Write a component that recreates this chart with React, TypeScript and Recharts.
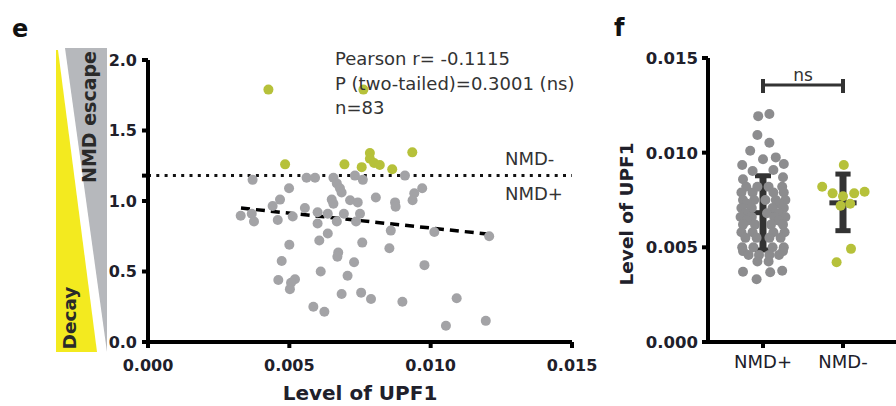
import { ScatterChart, Scatter, XAxis, YAxis, ReferenceLine } from "recharts";

const FONT = '"DejaVu Sans", sans-serif';
const TICK_FILL = "#20202a";

// ---- panel e: NMD efficiency vs UPF1 level ----
// [level of UPF1, NMD escape ratio]
const escapePoints: [number, number][] = [
  [0.00426, 1.79], [0.00762, 1.79], [0.00485, 1.26], [0.00695, 1.26],
  [0.00756, 1.24], [0.00785, 1.34], [0.00785, 1.3], [0.008, 1.27],
  [0.0082, 1.255], [0.00864, 1.225], [0.00935, 1.345],
];

const decayPoints: [number, number][] = [
  [0.0037, 1.15], [0.00561, 1.165], [0.00591, 1.165], [0.00656, 1.165],
  [0.00668, 1.125], [0.00679, 1.09], [0.00685, 1.06], [0.00732, 1.18],
  [0.0076, 1.15], [0.00909, 1.18], [0.0097, 1.09], [0.00942, 1.055],
  [0.00936, 1.005], [0.00499, 1.09], [0.00467, 1.01], [0.00441, 0.965],
  [0.0065, 1.01], [0.00656, 0.98], [0.00715, 1.005], [0.00742, 0.99],
  [0.00806, 1.025], [0.00874, 0.99], [0.00876, 0.96], [0.00328, 0.895],
  [0.00367, 0.91], [0.00375, 0.855], [0.00459, 0.865], [0.00512, 0.89],
  [0.00555, 0.95], [0.006, 0.92], [0.006, 0.84], [0.00636, 0.91],
  [0.00668, 0.855], [0.00693, 0.91], [0.00736, 0.855], [0.0075, 0.91],
  [0.00859, 0.79], [0.01013, 0.78], [0.01207, 0.75], [0.00636, 0.77],
  [0.00606, 0.72], [0.005, 0.69], [0.00758, 0.705], [0.00854, 0.665],
  [0.00673, 0.635], [0.0067, 0.605], [0.00473, 0.575], [0.00729, 0.565],
  [0.00978, 0.545], [0.00611, 0.5], [0.00706, 0.47], [0.00461, 0.44],
  [0.0052, 0.445], [0.00506, 0.42], [0.00502, 0.375], [0.00685, 0.34],
  [0.00754, 0.35], [0.00789, 0.305], [0.009, 0.285], [0.01092, 0.31],
  [0.00585, 0.25], [0.00624, 0.215], [0.01054, 0.115], [0.01195, 0.15],
];

const nmdThreshold = 1.18;
const fitStart: [number, number] = [0.00329, 0.95];
const fitEnd: [number, number] = [0.012, 0.766];

const eXTicks = [0, 0.005, 0.01, 0.015];
const eYTicks = [0, 0.5, 1, 1.18, 1.5, 2];

// ---- panel f: UPF1 level per group ----
const groupLabels = ["NMD+", "NMD-"];
const fYTicks = [0, 0.005, 0.01, 0.015];

// [horizontal jitter, level of UPF1]
const nmdPlusPoints: [number, number][] = [
  [-0.06, 0.01193], [0.08, 0.01204], [-0.07, 0.01093], [0.08, 0.01052],
  [-0.16, 0.0101], [0.0, 0.00965], [0.16, 0.00975], [-0.26, 0.00935],
  [0.26, 0.0094], [-0.13, 0.00903], [0.13, 0.00908], [-0.25, 0.0086],
  [0.25, 0.0087],
  [-0.21, 0.0082], [-0.07, 0.0082], [0.07, 0.0082], [0.24, 0.0082],
  [-0.27, 0.0079], [-0.13, 0.0079], [0.13, 0.0079], [0.26, 0.0079],
  [-0.25, 0.0075], [-0.11, 0.0075], [0.03, 0.0075], [0.16, 0.0075], [0.28, 0.0075],
  [-0.2, 0.0073], [0.2, 0.0073],
  [-0.27, 0.00708], [-0.14, 0.00708], [0.12, 0.00708], [0.26, 0.00708],
  [-0.22, 0.0068], [0.05, 0.0068], [0.2, 0.0068],
  [-0.28, 0.0066], [-0.14, 0.0066], [0.14, 0.0066], [0.28, 0.0066],
  [-0.2, 0.0064], [0.2, 0.0064],
  [-0.25, 0.0062], [-0.1, 0.0062], [0.1, 0.0062], [0.25, 0.0062],
  [-0.27, 0.0058], [-0.13, 0.0058], [0.13, 0.0058], [0.27, 0.0058],
  [-0.22, 0.0055], [-0.08, 0.0055], [0.08, 0.0055], [0.22, 0.0055],
  [-0.26, 0.005], [-0.12, 0.005], [0.12, 0.005], [0.26, 0.005],
  [-0.25, 0.0048], [0.25, 0.0048],
  [-0.18, 0.0046], [-0.05, 0.0046], [0.08, 0.0046], [0.2, 0.0046],
  [-0.07, 0.00425], [0.07, 0.00425],
  [-0.25, 0.00371], [-0.08, 0.00331], [0.09, 0.00368], [0.24, 0.00376],
];

const nmdMinusPoints: [number, number][] = [
  [0.01, 0.00935], [-0.26, 0.0082], [-0.13, 0.00785], [0.14, 0.00785],
  [0.27, 0.00794], [0.0, 0.0077], [0.09, 0.0073], [-0.03, 0.0072],
  [0.1, 0.00492], [-0.08, 0.00421],
];

// mean, lower SD, upper SD
const nmdPlusStats = [0.00683, 0.00486, 0.00878];
const nmdMinusStats = [0.00735, 0.00588, 0.00887];
const nsBracket = [0.01315, 0.01357, 0.01389];

const tickStyle = { fontSize: 16, fontWeight: "bold", fill: TICK_FILL, fontFamily: FONT };
const axisStroke = { stroke: "#000", strokeWidth: 4 };

// eslint-disable-next-line @typescript-eslint/no-explicit-any
const dot = (color: string) => (p: any) => <circle cx={p.cx} cy={p.cy} r={5} fill={color} />;

function PanelE() {
  const escape = escapePoints.map(([x, y]) => ({ x, y }));
  const decay = decayPoints.map(([x, y]) => ({ x, y }));
  return (
    <ScatterChart width={600} height={406} margin={{ top: 60, right: 28, bottom: 34, left: 0 }}>
      <XAxis
        type="number"
        dataKey="x"
        domain={[0, 0.015]}
        ticks={eXTicks}
        tickFormatter={(v: number) => v.toFixed(3)}
        axisLine={axisStroke}
        tickLine={axisStroke}
        tickSize={6}
        tickMargin={12}
        height={30}
        tick={tickStyle}
      />
      <YAxis
        type="number"
        dataKey="y"
        domain={[0, 2]}
        ticks={eYTicks}
        tickFormatter={(v: number) => (v === nmdThreshold ? "" : v.toFixed(1))}
        axisLine={axisStroke}
        tickLine={axisStroke}
        tickSize={6}
        tickMargin={5}
        width={148}
        tick={tickStyle}
      />
      <Scatter data={decay} shape={dot("#a3a3a6")} isAnimationActive={false} />
      <Scatter data={escape} shape={dot("#b6c13a")} isAnimationActive={false} />
      <ReferenceLine y={nmdThreshold} stroke="#111" strokeWidth={3} strokeDasharray="3 5.3" />
      <ReferenceLine
        segment={[
          { x: fitStart[0], y: fitStart[1] },
          { x: fitEnd[0], y: fitEnd[1] },
        ]}
        stroke="#000"
        strokeWidth={3.5}
        strokeDasharray="9 6"
      />
    </ScatterChart>
  );
}

function statLines(cx: number, stats: number[], half: number, cap: number) {
  const [mean, lo, hi] = stats;
  const c = "#333";
  return [
    <ReferenceLine key={`v${cx}`} segment={[{ x: cx, y: lo }, { x: cx, y: hi }]} stroke={c} strokeWidth={7} />,
    <ReferenceLine key={`m${cx}`} segment={[{ x: cx - half, y: mean }, { x: cx + half, y: mean }]} stroke={c} strokeWidth={5} />,
    <ReferenceLine key={`l${cx}`} segment={[{ x: cx - cap, y: lo }, { x: cx + cap, y: lo }]} stroke={c} strokeWidth={5} />,
    <ReferenceLine key={`h${cx}`} segment={[{ x: cx - cap, y: hi }, { x: cx + cap, y: hi }]} stroke={c} strokeWidth={5} />,
  ];
}

function PanelF() {
  const plus = nmdPlusPoints.map(([j, y]) => ({ x: 1 + j, y }));
  const minus = nmdMinusPoints.map(([j, y]) => ({ x: 2 + j, y }));
  const [bLo, bMid, bHi] = nsBracket;
  return (
    <ScatterChart width={316} height={406} margin={{ top: 58, right: 0, bottom: 34, left: 0 }}>
      <XAxis
        type="number"
        dataKey="x"
        domain={[0.3125, 2.6625]}
        ticks={[1, 2]}
        tickFormatter={(v: number) => groupLabels[v - 1] ?? ""}
        axisLine={axisStroke}
        tickLine={axisStroke}
        tickSize={6}
        tickMargin={7}
        height={30}
        tick={{ fontSize: 18, fill: TICK_FILL, fontFamily: FONT }}
        allowDataOverflow
      />
      <YAxis
        type="number"
        dataKey="y"
        domain={[0, 0.015]}
        ticks={fYTicks}
        tickFormatter={(v: number) => v.toFixed(3)}
        axisLine={axisStroke}
        tickLine={axisStroke}
        tickSize={6}
        tickMargin={4}
        width={128}
        tick={{ ...tickStyle, fontSize: 16.5 }}
      />
      <Scatter data={plus} shape={dot("#8c8c8e")} isAnimationActive={false} />
      <Scatter data={minus} shape={dot("#b6c13a")} isAnimationActive={false} />
      {statLines(1, nmdPlusStats, 0.18, 0.1)}
      {statLines(2, nmdMinusStats, 0.17, 0.095)}
      <ReferenceLine segment={[{ x: 1, y: bMid }, { x: 2, y: bMid }]} stroke="#333" strokeWidth={3} />
      <ReferenceLine segment={[{ x: 1, y: bLo }, { x: 1, y: bHi }]} stroke="#333" strokeWidth={4} />
      <ReferenceLine segment={[{ x: 2, y: bLo }, { x: 2, y: bHi }]} stroke="#333" strokeWidth={4} />
    </ScatterChart>
  );
}

export default function App() {
  return (
    <div
      style={{
        position: "absolute",
        left: 0,
        top: 0,
        width: 896,
        height: 406,
        background: "#fff",
        fontFamily: FONT,
        overflow: "hidden",
      }}
    >
      <div style={{ position: "absolute", left: 0, top: 0 }}>
        <PanelE />
      </div>
      <div style={{ position: "absolute", left: 580, top: 0 }}>
        <PanelF />
      </div>
      <svg
        width={896}
        height={406}
        style={{ position: "absolute", left: 0, top: 0, pointerEvents: "none" }}
        fontFamily={FONT}
      >
        {/* escape / decay wedges */}
        <polygon points="56,50 58,50 97,352 56,352" fill="#f3ea1f" />
        <polygon points="65,48 107,48 107,352" fill="#b6b8bc" />
        <text x={96} y={117} fontSize={19} fontWeight="bold" fill="#2a2a2a" textAnchor="middle" transform="rotate(-90 96 117)">
          NMD escape
        </text>
        <text x={76} y={318} fontSize={18.5} fontWeight="bold" fill="#2a2a2a" textAnchor="middle" transform="rotate(-90 76 318)">
          Decay
        </text>
        <text x={12} y={37} fontSize={24} fontWeight="bold" fill="#111">e</text>
        <text x={614} y={36} fontSize={24} fontWeight="bold" fill="#111">f</text>
        <g fontSize={18} fill="#333">
          <text x={335} y={65}>Pearson r= -0.1115</text>
          <text x={335} y={90}>P (two-tailed)=0.3001 (ns)</text>
          <text x={335} y={114}>n=83</text>
          <text x={505} y={165}>NMD-</text>
          <text x={505} y={200}>NMD+</text>
        </g>
        <text x={360} y={400} fontSize={20} fontWeight="bold" fill={TICK_FILL} textAnchor="middle">
          Level of UPF1
        </text>
        <text x={633} y={214} fontSize={18.5} fontWeight="bold" fill={TICK_FILL} textAnchor="middle" transform="rotate(-90 633 214)">
          Level of UPF1
        </text>
        <text x={803} y={81} fontSize={17} fill="#333" textAnchor="middle">ns</text>
      </svg>
    </div>
  );
}
